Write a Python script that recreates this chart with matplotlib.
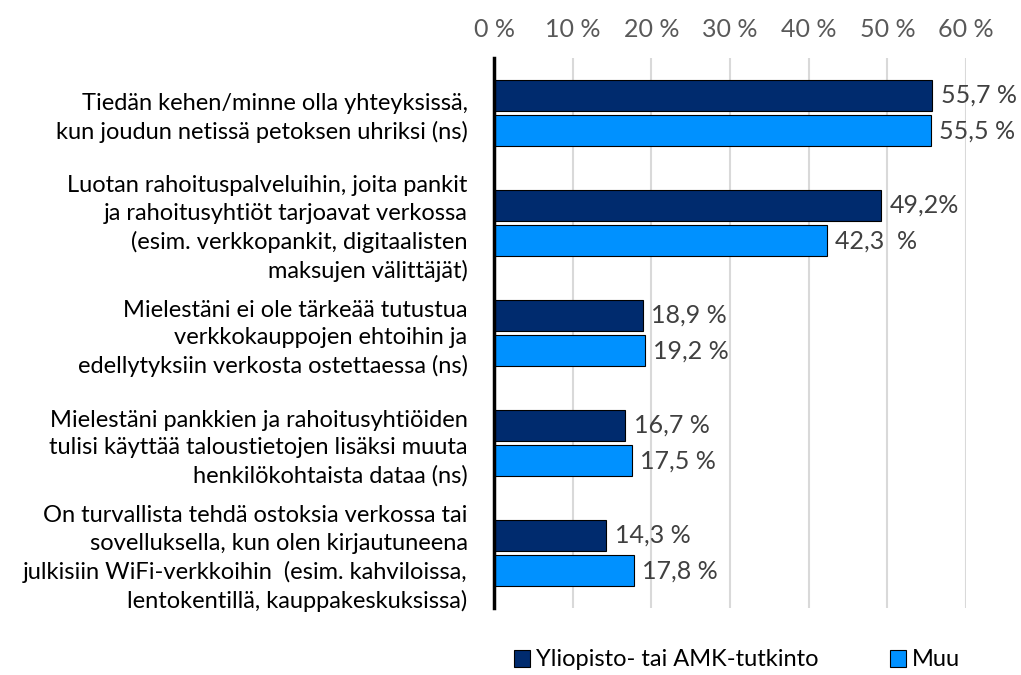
import matplotlib.pyplot as plt
import numpy as np

plt.rcParams['font.family'] = ['Lato', 'DejaVu Sans']

# data
categories = [
    "Tiedän kehen/minne olla yhteyksissä,\nkun joudun netissä petoksen uhriksi (ns)",
    "Luotan rahoituspalveluihin, joita pankit\nja rahoitusyhtiöt tarjoavat verkossa\n(esim. verkkopankit, digitaalisten\nmaksujen välittäjät)",
    "Mielestäni ei ole tärkeää tutustua\nverkkokauppojen ehtoihin ja\nedellytyksiin verkosta ostettaessa (ns)",
    "Mielestäni pankkien ja rahoitusyhtiöiden\ntulisi käyttää taloustietojen lisäksi muuta\nhenkilökohtaista dataa (ns)",
    "On turvallista tehdä ostoksia verkossa tai\nsovelluksella, kun olen kirjautuneena\njulkisiin WiFi-verkkoihin  (esim. kahviloissa,\nlentokentillä, kauppakeskuksissa)",
]
series_names = ["Yliopisto- tai AMK-tutkinto", "Muu"]
univ = [55.7, 49.2, 18.9, 16.7, 14.3]
muu = [55.5, 42.3, 19.2, 17.5, 17.8]
univ_labels = ["55,7 %", "49,2%", "18,9 %", "16,7 %", "14,3 %"]
muu_labels = ["55,5 %", "42,3  %", "19,2 %", "17,5 %", "17,8 %"]
xticks = [0, 10, 20, 30, 40, 50, 60]
xtick_labels = ["0 %", "10 %", "20 %", "30 %", "40 %", "50 %", "60 %"]

dark = '#002B6E'
light = '#0091FF'
txt = '#404040'
fs = 18

fig = plt.figure(figsize=(10.21, 6.75), dpi=100)
ax = fig.add_axes([494/1021, 1 - 608/675, (966-494)/1021, (608-58)/675])

y = np.arange(len(categories))
h = 0.28
off = 0.16
b1 = ax.barh(y - off, univ, height=h, color=dark, edgecolor='black', linewidth=0.8,
             label=series_names[0], zorder=3)
b2 = ax.barh(y + off, muu, height=h, color=light, edgecolor='black', linewidth=0.8,
             label=series_names[1], zorder=3)

for rect, lab in zip(b1, univ_labels):
    ax.annotate(lab, (rect.get_width(), rect.get_y() + rect.get_height()/2),
                xytext=(6, 0), textcoords='offset points', va='center', ha='left',
                fontsize=fs, color=txt)
for rect, lab in zip(b2, muu_labels):
    ax.annotate(lab, (rect.get_width(), rect.get_y() + rect.get_height()/2),
                xytext=(6, 0), textcoords='offset points', va='center', ha='left',
                fontsize=fs, color=txt)

ax.set_ylim(len(categories) - 0.5, -0.5)
ax.set_xlim(0, 60)
ax.set_yticks(y)
ax.set_yticklabels(categories, fontsize=17, color='black')
for t in ax.get_yticklabels():
    t.set_linespacing(1.38)
    t.set_horizontalalignment('right')
ax.tick_params(axis='y', length=0, pad=19)

ax.xaxis.tick_top()
ax.set_xticks(xticks)
ax.set_xticklabels(xtick_labels, fontsize=fs, color='#595959')
ax.tick_params(axis='x', length=0, pad=12)
ax.grid(axis='x', color='#D9D9D9', linewidth=1.5, zorder=0)

for s in ['top', 'right', 'bottom']:
    ax.spines[s].set_visible(False)
ax.spines['left'].set_linewidth(2.5)
ax.spines['left'].set_color('black')
ax.spines['left'].set_zorder(4)

fig.legend(handles=[b1, b2], labels=series_names, loc='center',
           bbox_to_anchor=(737/1021, 1 - 660/675), ncol=2, frameon=False,
           fontsize=17, handlelength=0.7, handleheight=0.7, handletextpad=0.25,
           columnspacing=3.0, labelcolor='black')

fig.savefig('out.png', dpi=100)
